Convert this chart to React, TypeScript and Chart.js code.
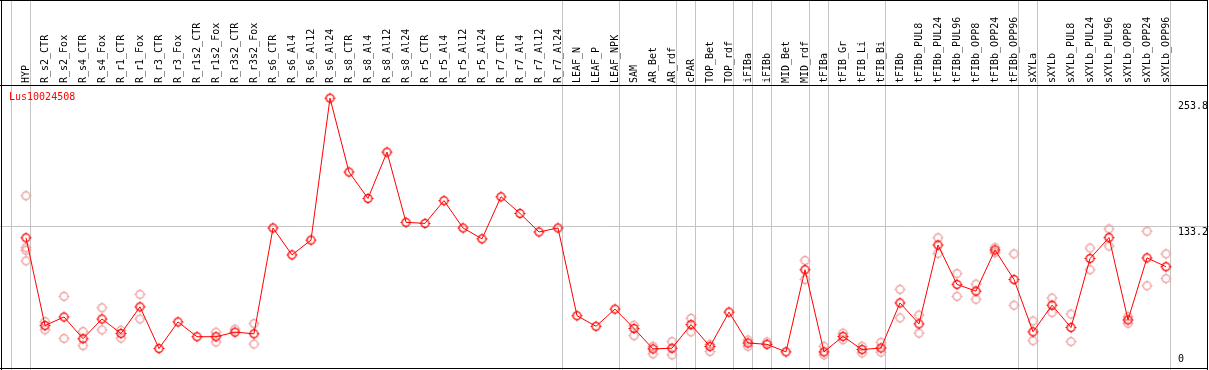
import { useEffect, useRef } from 'react';
import { Chart, registerables } from 'chart.js';

Chart.register(...registerables);

const categories = [
  'HYP', 'R_s2_CTR', 'R_s2_Fox', 'R_s4_CTR', 'R_s4_Fox', 'R_r1_CTR', 'R_r1_Fox', 'R_r3_CTR', 'R_r3_Fox', 'R_r1s2_CTR',
  'R_r1s2_Fox', 'R_r3s2_CTR', 'R_r3s2_Fox', 'R_s6_CTR', 'R_s6_Al4', 'R_s6_Al12', 'R_s6_Al24', 'R_s8_CTR', 'R_s8_Al4', 'R_s8_Al12',
  'R_s8_Al24', 'R_r5_CTR', 'R_r5_Al4', 'R_r5_Al12', 'R_r5_Al24', 'R_r7_CTR', 'R_r7_Al4', 'R_r7_Al12', 'R_r7_Al24', 'LEAF_N',
  'LEAF_P', 'LEAF_NPK', 'SAM', 'AR_Bet', 'AR_rdf', 'cPAR', 'TOP_Bet', 'TOP_rdf', 'iFIBa', 'iFIBb',
  'MID_Bet', 'MID_rdf', 'tFIBa', 'tFIB_Gr', 'tFIB_Li', 'tFIB_Bi', 'tFIBb', 'tFIBb_PUL8', 'tFIBb_PUL24', 'tFIBb_PUL96',
  'tFIBb_OPP8', 'tFIBb_OPP24', 'tFIBb_OPP96', 'sXYLa', 'sXYLb', 'sXYLb_PUL8', 'sXYLb_PUL24', 'sXYLb_PUL96', 'sXYLb_OPP8', 'sXYLb_OPP24',
  'sXYLb_OPP96',
];

const meanValues = [
  121.9, 37.8, 46.0, 25.2, 44.1, 30.2, 55.7, 15.8, 41.3, 27.1,
  27.1, 31.5, 29.9, 131.3, 105.5, 119.7, 255.7, 184.9, 159.6, 204.0,
  136.7, 135.7, 157.5, 131.3, 120.9, 161.2, 145.2, 127.5, 131.3, 47.2,
  37.1, 53.6, 35.0, 15.4, 16.1, 38.7, 17.7, 50.7, 21.1, 19.8,
  12.6, 91.3, 12.6, 27.4, 14.8, 16.3, 59.5, 39.4, 115.0, 77.2,
  70.8, 110.2, 81.9, 31.8, 57.3, 35.9, 102.0, 122.1, 43.2, 102.7,
  94.2,
];

const repA = [
  162.2, 41.6, 65.8, 32.1, 54.8, 33.3, 67.7, null, null, null,
  31.5, 34.3, 39.7, null, null, null, null, null, null, null,
  null, null, null, null, null, null, null, null, null, null,
  null, null, 38.1, 17.9, 22.4, 44.7, 19.8, null, 23.9, 22.0,
  null, 100.1, 17.9, 30.5, 17.9, 21.7, 72.5, 47.9, 121.9, 87.6,
  77.5, 112.4, 106.5, 42.2, 64.2, 48.8, 112.1, 130.4, 46.3, 128.2,
  106.5,
];

const repB = [
  112.4, 33.7, 25.5, 18.6, 33.7, 25.8, 44.1, null, null, null,
  22.0, null, 20.1, null, null, null, null, null, null, null,
  null, null, null, null, null, null, null, null, null, null,
  null, null, 28.1, 10.7, 9.7, 31.8, 12.9, null, 17.9, null,
  null, 81.9, 9.7, 24.3, 11.6, 12.3, 45.1, 30.5, 107.0, 65.8,
  63.0, 107.7, 57.3, 23.3, 50.3, 22.4, 91.3, 114.0, 40.0, 75.9,
  82.8,
];

const extraRepCats = ['HYP', 'HYP'];
const extraRepValues = [109.9, 99.8];

const geneLabel = 'Lus10024508';
const rightTickValues = [0, 133.2, 253.8];
const rightTickLabels = ['0', '133.2', '253.8'];
const groupBreakAfterIndex = [-1, 0, 28, 31, 34, 35, 37, 38, 39, 41, 42, 45, 52, 53, 60];

const FONT = '"DejaVu Sans Mono", monospace';

function makeSun(color: string) {
  const c = document.createElement('canvas');
  c.width = 13;
  c.height = 13;
  const g = c.getContext('2d')!;
  g.strokeStyle = color;
  g.lineWidth = 1.3;
  g.beginPath();
  g.arc(6.5, 6.5, 3.9, 0, Math.PI * 2);
  g.stroke();
  g.lineWidth = 1;
  g.beginPath();
  g.moveTo(6.5, 1); g.lineTo(6.5, 2.5);
  g.moveTo(6.5, 10.5); g.lineTo(6.5, 12);
  g.moveTo(1, 6.5); g.lineTo(2.5, 6.5);
  g.moveTo(10.5, 6.5); g.lineTo(12, 6.5);
  g.stroke();
  return c;
}

const framePlugin = {
  id: 'framePlugin',
  beforeDraw(chart: any) {
    const { ctx, width, height } = chart;
    const xs = chart.scales.x;
    const ys = chart.scales.y;
    ctx.save();
    ctx.fillStyle = '#ffffff';
    ctx.fillRect(0, 0, width, height);
    ctx.strokeStyle = '#c4c4c4';
    ctx.lineWidth = 1;
    ctx.beginPath();
    for (const i of groupBreakAfterIndex) {
      const px = Math.round(xs.getPixelForValue(i) + 4) + 0.5;
      ctx.moveTo(px, 0);
      ctx.lineTo(px, height);
    }
    const gy = Math.round(ys.getPixelForValue(rightTickValues[1])) + 0.5;
    ctx.moveTo(0, gy);
    ctx.lineTo(width, gy);
    ctx.stroke();
    ctx.restore();
  },
  afterDraw(chart: any) {
    const { ctx, chartArea } = chart;
    const ys = chart.scales.y;
    ctx.save();
    ctx.strokeStyle = '#000000';
    ctx.lineWidth = 1;
    ctx.beginPath();
    ctx.moveTo(0, 0.5); ctx.lineTo(1208, 0.5);
    ctx.moveTo(1.5, 0); ctx.lineTo(1.5, 370);
    ctx.moveTo(1207.5, 0); ctx.lineTo(1207.5, 370);
    ctx.moveTo(0, 368.5); ctx.lineTo(1208, 368.5);
    ctx.moveTo(0, chartArea.top + 0.5); ctx.lineTo(1208, chartArea.top + 0.5);
    ctx.stroke();

    ctx.font = `10px ${FONT}`;
    ctx.textBaseline = 'alphabetic';
    ctx.textAlign = 'left';
    ctx.fillStyle = '#ff0000';
    ctx.fillText(geneLabel, 9, 100);

    ctx.fillStyle = '#000000';
    rightTickValues.forEach((v, k) => {
      const py = ys.getPixelForValue(v);
      const by = Math.min(py + 9, chartArea.bottom - 3.5);
      ctx.fillText(rightTickLabels[k], chartArea.right + 12, by);
    });
    ctx.restore();
  },
};

export default function App() {
  const ref = useRef<HTMLCanvasElement | null>(null);

  useEffect(() => {
    document.body.style.margin = '0';
    const canvas = ref.current;
    if (!canvas) return;
    const meanSun = makeSun('#ff0000');
    const repSun = makeSun('#ec9c9c');

    const chart = new Chart(canvas, {
      type: 'line',
      data: {
        labels: categories,
        datasets: [
          {
            label: geneLabel,
            data: meanValues,
            borderColor: '#ff0000',
            borderWidth: 1,
            pointStyle: meanSun as any,
            pointRadius: 4,
            tension: 0,
            order: 0,
            clip: false as any,
          },
          {
            label: 'repA',
            data: repA,
            showLine: false,
            pointStyle: repSun as any,
            pointRadius: 4,
            order: 1,
            clip: false as any,
          },
          {
            label: 'repB',
            data: repB,
            showLine: false,
            pointStyle: repSun as any,
            pointRadius: 4,
            order: 1,
            clip: false as any,
          },
          {
            label: 'repExtra',
            data: extraRepCats.map((c, k) => ({ x: c, y: extraRepValues[k] })) as any,
            showLine: false,
            pointStyle: repSun as any,
            pointRadius: 4,
            order: 1,
            clip: false as any,
          },
        ],
      },
      options: {
        animation: false,
        responsive: false,
        devicePixelRatio: 1,
        events: [],
        layout: { padding: { left: 26, right: 0, top: 0, bottom: 1 } },
        plugins: {
          legend: { display: false },
          tooltip: { enabled: false },
          title: { display: false },
        },
        scales: {
          x: {
            type: 'category',
            position: 'top',
            offset: false,
            grid: { display: false, drawTicks: false, tickLength: 0 },
            border: { display: false },
            ticks: {
              autoSkip: false,
              minRotation: 90,
              maxRotation: 90,
              padding: 2,
              labelOffset: 12,
              color: '#000000',
              font: { family: FONT, size: 10 },
            },
            afterFit: (s: any) => { s.height = 85; },
          },
          y: {
            type: 'linear',
            position: 'right',
            min: 0,
            max: 268.3,
            grid: { display: false },
            border: { display: false },
            ticks: { display: false },
            afterFit: (s: any) => { s.width = 43; },
          },
        },
      },
      plugins: [framePlugin],
    });
    return () => chart.destroy();
  }, []);

  return (
    <div style={{ width: 1209, height: 370 }}>
      <canvas ref={ref} width={1209} height={370} style={{ display: 'block' }} />
    </div>
  );
}
